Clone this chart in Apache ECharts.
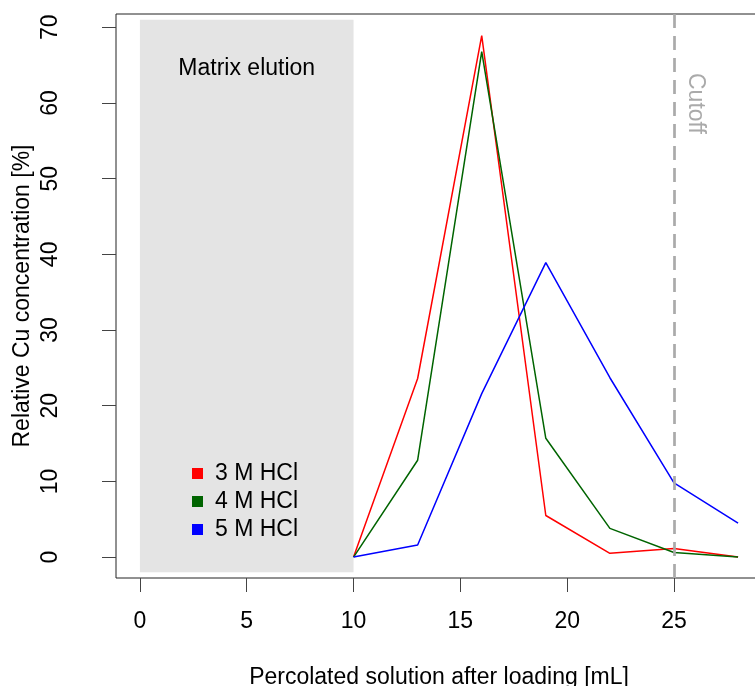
<!DOCTYPE html>
<html>
<head>
<meta charset="utf-8">
<script src="https://cdn.jsdelivr.net/npm/echarts@6/dist/echarts.min.js"></script>
<style>
html,body{margin:0;padding:0;background:#fff;}
#chart{width:755px;height:686px;}
</style>
</head>
<body>
<div id="chart"></div>
<script>
// ---- data ----
const xValues = [10, 13, 16, 19, 22, 25, 28];
const hcl3 = [0, 23.6, 68.9, 5.5, 0.5, 1.15, 0];
const hcl4 = [0, 12.8, 66.8, 15.7, 3.8, 0.6, 0];
const hcl5 = [0, 1.6, 21.6, 38.9, 23.7, 9.8, 4.5];
const seriesNames = ['3 M HCl', '4 M HCl', '5 M HCl'];
const xTicks = [0, 5, 10, 15, 20, 25];
const yTicks = [0, 10, 20, 30, 40, 50, 60, 70];
const matrixRange = [0, 10];
const cutoffX = 25;

const FONT = 'Liberation Sans, Arial, sans-serif';
const FS = 23;
const pairs = arr => xValues.map((x, i) => [x, arr[i]]);

const chart = echarts.init(document.getElementById('chart'), null, {renderer: 'canvas'});
const colors = ['#ff0000', '#006400', '#0000ff'];

const option = {
  animation: false,
  backgroundColor: '#ffffff',
  textStyle: {fontFamily: FONT},
  grid: {
    left: 116, top: 14, right: -7, bottom: 108,
    outerBoundsMode: 'none',
    containLabel: false,
    show: true, borderColor: '#222', borderWidth: 1, backgroundColor: 'transparent'
  },
  legend: {
    orient: 'vertical',
    left: 187, top: 457,
    icon: 'rect',
    itemWidth: 11, itemHeight: 11,
    itemGap: 5,
    data: seriesNames,
    textStyle: {fontSize: FS, color: '#000', fontFamily: FONT, lineHeight: 23, padding: [0, 0, 0, 7]}
  },
  xAxis: {
    type: 'value',
    min: -1.12, max: 29.12,
    name: 'Percolated solution after loading [mL]',
    nameLocation: 'middle',
    nameGap: 88,
    nameMoveOverlap: false,
    nameTextStyle: {fontSize: FS, color: '#000', fontFamily: FONT},
    axisLine: {show: false, onZero: false},
    axisTick: {show: true, inside: false, customValues: xTicks, length: 14, lineStyle: {color: '#444', width: 1}},
    axisLabel: {customValues: xTicks, margin: 32, fontSize: FS, color: '#000', fontFamily: FONT},
    splitLine: {show: false}
  },
  yAxis: {
    type: 'value',
    min: -2.76, max: 71.76,
    name: 'Relative Cu concentration [%]',
    nameLocation: 'middle',
    nameRotate: 90,
    nameGap: 82,
    nameMoveOverlap: false,
    nameTextStyle: {fontSize: FS, color: '#000', fontFamily: FONT},
    axisLine: {show: false, onZero: false},
    axisTick: {show: true, inside: false, customValues: yTicks, length: 14, lineStyle: {color: '#444', width: 1}},
    axisLabel: {customValues: yTicks, rotate: 90, margin: 54, fontSize: FS, color: '#000', fontFamily: FONT},
    splitLine: {show: false}
  },
  series: [
    {
      name: seriesNames[0], type: 'line', data: pairs(hcl3), symbol: 'none',
      color: colors[0], lineStyle: {width: 1.5, color: colors[0]},
      markArea: {
        silent: true,
        itemStyle: {color: '#e4e4e4'},
        label: {show: true, position: 'insideTop', distance: 37, fontSize: FS, color: '#000', fontFamily: FONT},
        data: [[{name: 'Matrix elution', coord: [matrixRange[0], -2]}, {coord: [matrixRange[1], 71]}]]
      },
      markLine: {
        silent: true, symbol: 'none',
        lineStyle: {color: '#aaaaaa', width: 2.7, type: [14, 8]},
        label: {show: true, formatter: 'Cutoff', position: 'insideStartTop', distance: [59, 10],
                fontSize: FS, color: '#aaaaaa', fontFamily: FONT},
        data: [[{coord: [cutoffX, 71.76]}, {coord: [cutoffX, -2.76]}]]
      }
    },
    {
      name: seriesNames[1], type: 'line', data: pairs(hcl4), symbol: 'none',
      color: colors[1], lineStyle: {width: 1.5, color: colors[1]}
    },
    {
      name: seriesNames[2], type: 'line', data: pairs(hcl5), symbol: 'none',
      color: colors[2], lineStyle: {width: 1.5, color: colors[2]}
    }
  ]
};
chart.setOption(option);
</script>
</body>
</html>
